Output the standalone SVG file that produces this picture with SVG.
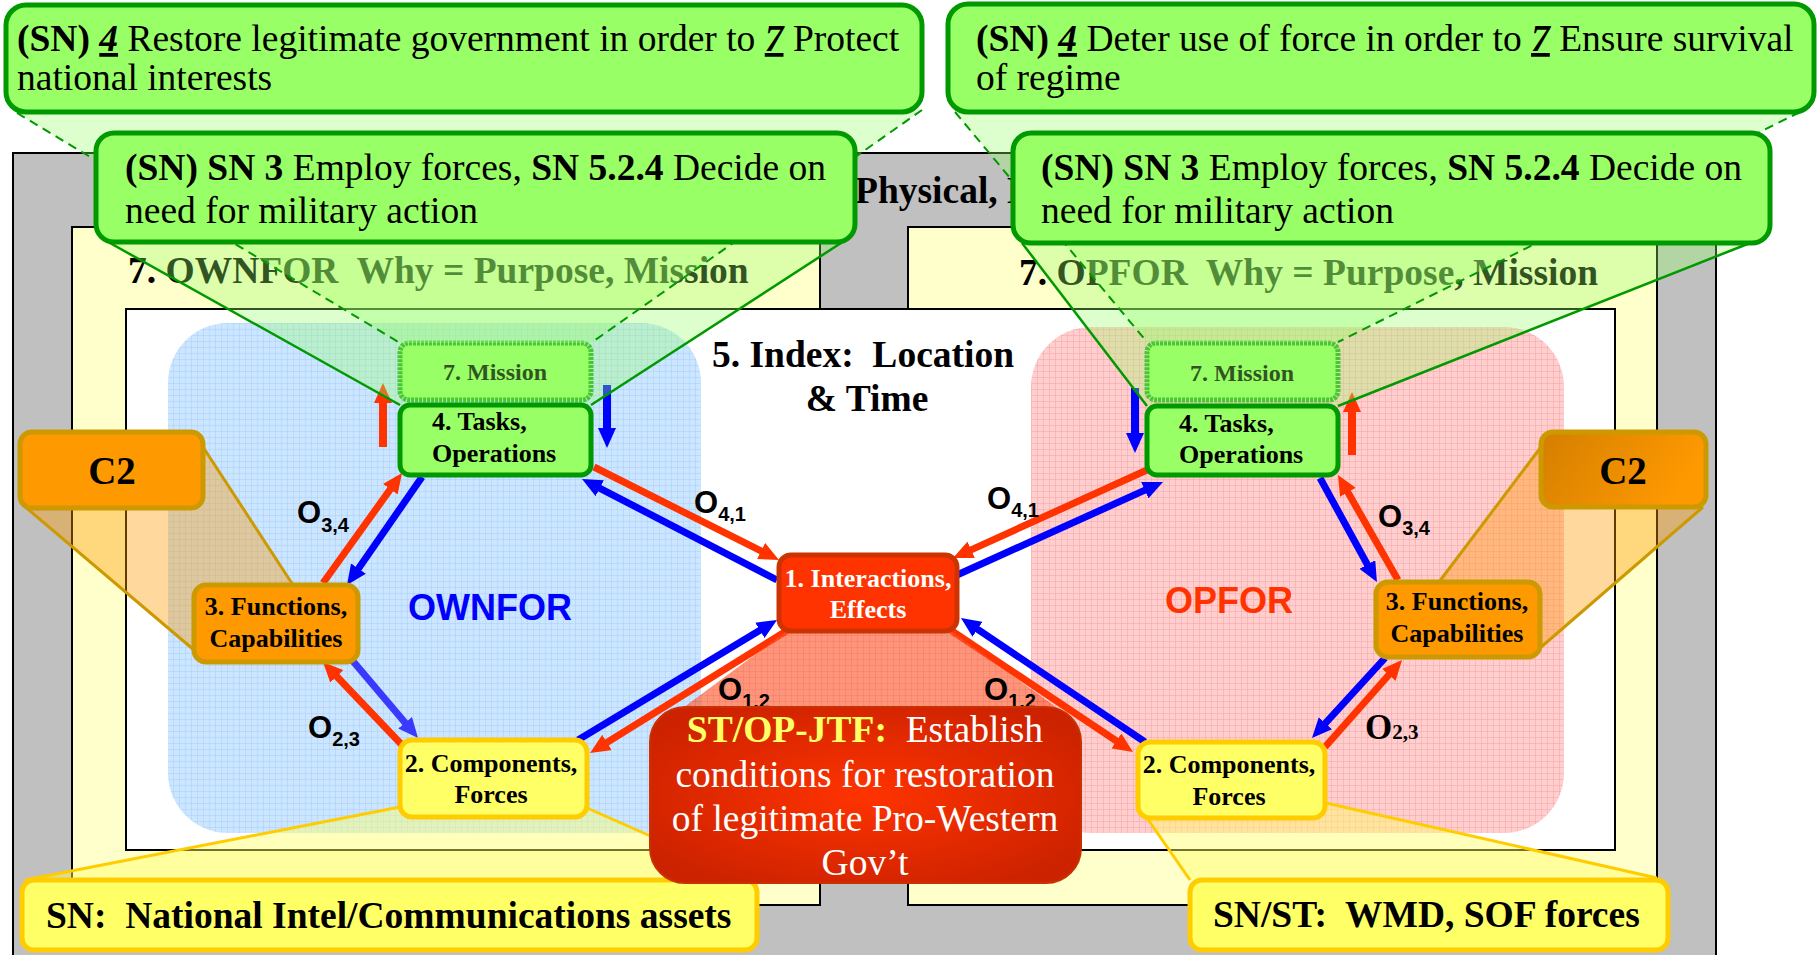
<svg xmlns="http://www.w3.org/2000/svg" width="1818" height="955" viewBox="0 0 1818 955">
<style>
.serif{font-family:"Liberation Serif","Times New Roman",serif}
.sans{font-family:"Liberation Sans",Arial,sans-serif}
.big{font-size:37.5px}
.lbl{font-size:26px;font-weight:bold}
.frame{stroke:#000;stroke-width:2}
.green{fill:#99ff66;stroke:#009900;stroke-width:5}
.mission{fill:#99ff66;stroke:#22aa22;stroke-width:5;stroke-dasharray:3 1}
.orange{fill:#ff9900;stroke:#cc9900;stroke-width:5}
.yellow{fill:#ffff66;stroke:#ffcc00;stroke-width:5}
.ar{stroke-width:7;fill:none}
.av{stroke-width:8;fill:none}
.r{stroke:#ff3300}
.b{stroke:#0000ff}
.b2{stroke:#3a3aff}
.olab{font-family:"Liberation Sans",Arial,sans-serif;font-weight:bold;font-size:31px;fill:#000}
.sub{font-size:20px}
.gcone{fill:#99ff66;fill-opacity:0.33}
.gdash{stroke:#009900;stroke-width:2;stroke-dasharray:9 6;fill:none}
.gsolid{stroke:#009900;stroke-width:2.5;fill:none}
.ocone{fill:#ff9900;fill-opacity:0.38}
.oedge{stroke:#cc9900;stroke-width:3;fill:none}
.ycone{fill:#ffff66;fill-opacity:0.45}
.yedge{stroke:#ffcc00;stroke-width:3;fill:none}
</style>
<defs>
<pattern id="gridBlue" width="6" height="6" patternUnits="userSpaceOnUse"><rect width="6" height="6" fill="#cde6ff"/><path d="M6 0V6M0 6H6" stroke="#a6cff9" stroke-width="1"/></pattern>
<pattern id="gridRed" width="6" height="6" patternUnits="userSpaceOnUse"><rect width="6" height="6" fill="#ffcece"/><path d="M6 0V6M0 6H6" stroke="#f7a3a3" stroke-width="1"/></pattern>
<pattern id="gridRC" width="6" height="6" patternUnits="userSpaceOnUse"><rect width="6" height="6" fill="#ff5a33"/><path d="M6 0V6M0 6H6" stroke="#e03a10" stroke-width="1"/></pattern>
<radialGradient id="stGrad" cx="50%" cy="50%" r="60%"><stop offset="0" stop-color="#ff3300"/><stop offset="1" stop-color="#cc2200"/></radialGradient>
<linearGradient id="c2Grad" x1="0" y1="0" x2="1" y2="0.3"><stop offset="0" stop-color="#d47f00"/><stop offset="1" stop-color="#ff9900"/></linearGradient>
<marker id="hr" markerUnits="userSpaceOnUse" markerWidth="20" markerHeight="18" refX="2" refY="9" orient="auto"><path d="M0,0L20,9L0,18z" fill="#ff3300"/></marker>
<marker id="hb" markerUnits="userSpaceOnUse" markerWidth="20" markerHeight="18" refX="2" refY="9" orient="auto"><path d="M0,0L20,9L0,18z" fill="#0000ff"/></marker>
<marker id="hb2" markerUnits="userSpaceOnUse" markerWidth="20" markerHeight="18" refX="2" refY="9" orient="auto"><path d="M0,0L20,9L0,18z" fill="#3a3aff"/></marker>
</defs>

<g id="background">
<rect x="13" y="153" width="1703" height="820" fill="#c0c0c0" class="frame"/>
<text x="855" y="203" class="serif big" font-weight="bold" xml:space="preserve">Physical, M</text>
<rect x="72" y="227" width="748" height="678" fill="#ffffcc" class="frame"/>
<rect x="908" y="227" width="749" height="678" fill="#ffffcc" class="frame"/>
<rect x="126" y="309" width="1489" height="541" fill="#ffffff" class="frame"/>
<rect x="168" y="323" width="533" height="510" rx="60" fill="url(#gridBlue)"/>
<rect x="1031" y="327" width="533" height="506" rx="60" fill="url(#gridRed)"/>
<text x="128" y="283" class="serif big" font-weight="bold" xml:space="preserve">7. OWNFOR  Why = Purpose, Mission</text>
<text x="1019" y="285" class="serif big" font-weight="bold" xml:space="preserve">7. OPFOR  Why = Purpose, Mission</text>
<text class="serif big" font-weight="bold" text-anchor="middle" xml:space="preserve"><tspan x="863" y="367">5. Index:  Location</tspan><tspan x="867" y="411">&amp; Time</tspan></text>
<text x="408" y="620" class="sans" font-size="36" font-weight="bold" fill="#0000ff">OWNFOR</text>
<text x="1165" y="613" class="sans" font-size="36" font-weight="bold" fill="#ff3300">OPFOR</text>
</g>

<g id="node-mission-ownfor">
<rect x="400" y="343" width="191" height="57" rx="9" class="mission"/>
<text x="495" y="380" class="serif" font-size="24" font-weight="bold" text-anchor="middle">7. Mission</text>
</g>
<g id="node-mission-opfor">
<rect x="1147" y="343" width="191" height="57" rx="9" class="mission"/>
<text x="1242" y="381" class="serif" font-size="24" font-weight="bold" text-anchor="middle">7. Mission</text>
</g>

<g id="connectors">
<line x1="594" y1="467" x2="762.9" y2="551.9" class="ar r" marker-end="url(#hr)"/>
<line x1="777" y1="580" x2="598" y2="487.3" class="ar b" marker-end="url(#hb)"/>
<line x1="323" y1="583" x2="391.5" y2="487.6" class="ar r" marker-end="url(#hr)"/>
<line x1="422" y1="477" x2="357.3" y2="570.2" class="ar b" marker-end="url(#hb)"/>
<line x1="402" y1="745" x2="335.4" y2="675" class="ar r" marker-end="url(#hr)"/>
<line x1="352" y1="660" x2="406.4" y2="724.3" class="ar b2" marker-end="url(#hb2)"/>
<line x1="578" y1="740" x2="761.6" y2="629.3" class="ar b" marker-end="url(#hb)"/>
<line x1="791" y1="628" x2="605.3" y2="743.5" class="ar r" marker-end="url(#hr)"/>
<line x1="1147" y1="470" x2="969.4" y2="550.6" class="ar r" marker-end="url(#hr)"/>
<line x1="957" y1="575" x2="1146.6" y2="489.4" class="ar b" marker-end="url(#hb)"/>
<line x1="1145" y1="742" x2="975.9" y2="628.1" class="ar b" marker-end="url(#hb)"/>
<line x1="946" y1="627" x2="1118" y2="742" class="ar r" marker-end="url(#hr)"/>
<line x1="1320" y1="478" x2="1368.3" y2="566.2" class="ar b" marker-end="url(#hb)"/>
<line x1="1398" y1="580" x2="1346.9" y2="490.6" class="ar r" marker-end="url(#hr)"/>
<line x1="1385" y1="658" x2="1324.1" y2="724.7" class="ar b" marker-end="url(#hb)"/>
<line x1="1325" y1="747" x2="1390.1" y2="673.5" class="ar r" marker-end="url(#hr)"/>
<line x1="383" y1="447" x2="383" y2="401" class="av r" marker-end="url(#hr)"/>
<line x1="607" y1="385" x2="607" y2="430" class="av b" marker-end="url(#hb)"/>
<line x1="1135" y1="388" x2="1135" y2="435" class="av b" marker-end="url(#hb)"/>
<line x1="1352" y1="455" x2="1352" y2="410" class="av r" marker-end="url(#hr)"/>
</g>

<g id="cones">
<polygon points="17,113 922,110 591,343 400,343" class="gcone" fill-opacity="0.25"/>
<polygon points="110,243 841,243 591,405 400,405" class="gcone"/>
<line x1="17" y1="113" x2="400" y2="343" class="gdash"/>
<line x1="922" y1="110" x2="591" y2="343" class="gdash"/>
<line x1="110" y1="243" x2="400" y2="405" class="gsolid"/>
<line x1="841" y1="243" x2="591" y2="405" class="gsolid"/>
<polygon points="955,112 1800,112 1338,342 1147,342" class="gcone" fill-opacity="0.25"/>
<polygon points="1022,243 1750,243 1338,406 1147,406" class="gcone"/>
<line x1="955" y1="112" x2="1147" y2="342" class="gdash"/>
<line x1="1800" y1="112" x2="1338" y2="342" class="gdash"/>
<line x1="1022" y1="243" x2="1147" y2="406" class="gsolid"/>
<line x1="1750" y1="243" x2="1338" y2="406" class="gsolid"/>
<polygon points="203,447 293,585 194,650 23,505" class="ocone"/>
<line x1="203" y1="447" x2="293" y2="585" class="oedge"/>
<line x1="23" y1="505" x2="194" y2="650" class="oedge"/>
<polygon points="1541,447 1439,582 1540,648 1703,507" class="ocone"/>
<line x1="1541" y1="447" x2="1439" y2="582" class="oedge"/>
<line x1="1703" y1="507" x2="1540" y2="648" class="oedge"/>
<polygon points="400,807 587,808 757,883 25,880" class="ycone"/>
<line x1="400" y1="807" x2="25" y2="880" class="yedge"/>
<line x1="587" y1="808" x2="757" y2="883" class="yedge"/>
<polygon points="1147,818 1326,803 1657,878 1190,880" class="ycone"/>
<line x1="1147" y1="818" x2="1190" y2="880" class="yedge"/>
<line x1="1326" y1="803" x2="1657" y2="878" class="yedge"/>
<polygon points="791,628 947,628 1060,710 680,710" fill="url(#gridRC)" fill-opacity="0.65"/>
</g>

<g id="labels">
<text x="297" y="523" class="olab">O<tspan class="sub" dy="9">3,4</tspan></text>
<text x="308" y="738" class="olab">O<tspan class="sub" dy="8">2,3</tspan></text>
<text x="694" y="513" class="olab">O<tspan class="sub" dy="8">4,1</tspan></text>
<text x="718" y="700" class="olab">O<tspan class="sub" dy="8">1,2</tspan></text>
<text x="987" y="509" class="olab">O<tspan class="sub" dy="8">4,1</tspan></text>
<text x="984" y="700" class="olab">O<tspan class="sub" dy="8">1,2</tspan></text>
<text x="1378" y="527" class="olab">O<tspan class="sub" dy="8">3,4</tspan></text>
<text x="1365" y="739" class="serif" font-size="35" font-weight="bold">O<tspan font-size="21" dy="0">2,3</tspan></text>
</g>

<g id="node-tasks-ownfor">
<rect x="400" y="405" width="191" height="70" rx="10" class="green"/>
<text class="serif lbl"><tspan x="432" y="430">4. Tasks,</tspan><tspan x="432" y="462">Operations</tspan></text>
</g>
<g id="node-tasks-opfor">
<rect x="1147" y="406" width="191" height="69" rx="10" class="green"/>
<text class="serif lbl"><tspan x="1179" y="432">4. Tasks,</tspan><tspan x="1179" y="463">Operations</tspan></text>
</g>
<g id="node-functions-ownfor">
<rect x="194" y="585" width="164" height="77" rx="12" class="orange"/>
<text class="serif lbl" text-anchor="middle"><tspan x="276" y="615">3. Functions,</tspan><tspan x="276" y="647">Capabilities</tspan></text>
</g>
<g id="node-functions-opfor">
<rect x="1376" y="582" width="164" height="75" rx="12" class="orange"/>
<text class="serif lbl" text-anchor="middle"><tspan x="1457" y="610">3. Functions,</tspan><tspan x="1457" y="642">Capabilities</tspan></text>
</g>
<g id="node-components-ownfor">
<rect x="400" y="740" width="187" height="77" rx="12" class="yellow"/>
<text class="serif lbl" text-anchor="middle"><tspan x="491" y="772">2. Components,</tspan><tspan x="491" y="803">Forces</tspan></text>
</g>
<g id="node-components-opfor">
<rect x="1138" y="742" width="187" height="76" rx="12" class="yellow"/>
<text class="serif lbl" text-anchor="middle"><tspan x="1229" y="773">2. Components,</tspan><tspan x="1229" y="805">Forces</tspan></text>
</g>
<g id="node-interactions">
<rect x="779" y="555" width="178" height="76" rx="12" fill="#ff3300" stroke="#cc3300" stroke-width="5"/>
<text class="serif lbl" text-anchor="middle" fill="#ffffff"><tspan x="868" y="587">1. Interactions,</tspan><tspan x="868" y="618">Effects</tspan></text>
</g>

<g id="callout-sn-ownfor">
<rect x="6" y="5" width="916" height="107" rx="20" class="green"/>
<text class="serif big"><tspan x="17" y="51"><tspan font-weight="bold">(SN)</tspan> <tspan font-weight="bold" font-style="italic" text-decoration="underline">4</tspan> Restore legitimate government in order to <tspan font-weight="bold" font-style="italic" text-decoration="underline">7</tspan> Protect</tspan><tspan x="17" y="90">national interests</tspan></text>
</g>
<g id="callout-sn-opfor">
<rect x="948" y="4" width="866" height="108" rx="20" class="green"/>
<text class="serif big"><tspan x="976" y="51"><tspan font-weight="bold">(SN)</tspan> <tspan font-weight="bold" font-style="italic" text-decoration="underline">4</tspan> Deter use of force in order to <tspan font-weight="bold" font-style="italic" text-decoration="underline">7</tspan> Ensure survival</tspan><tspan x="976" y="90">of regime</tspan></text>
</g>
<g id="callout-tasks-ownfor">
<rect x="96" y="133" width="759" height="109" rx="18" class="green"/>
<text class="serif big"><tspan x="125" y="180"><tspan font-weight="bold">(SN) SN 3</tspan> Employ forces, <tspan font-weight="bold">SN 5.2.4</tspan> Decide on</tspan><tspan x="125" y="223">need for military action</tspan></text>
</g>
<g id="callout-tasks-opfor">
<rect x="1013" y="133" width="757" height="110" rx="18" class="green"/>
<text class="serif big"><tspan x="1041" y="180"><tspan font-weight="bold">(SN) SN 3</tspan> Employ forces, <tspan font-weight="bold">SN 5.2.4</tspan> Decide on</tspan><tspan x="1041" y="223">need for military action</tspan></text>
</g>
<g id="callout-c2-ownfor">
<rect x="20" y="432" width="183" height="76" rx="12" class="orange"/>
<text x="112" y="484" class="serif" font-size="39" font-weight="bold" text-anchor="middle">C2</text>
</g>
<g id="callout-c2-opfor">
<rect x="1541" y="432" width="165" height="75" rx="12" fill="url(#c2Grad)" stroke="#cc9900" stroke-width="5"/>
<text x="1623" y="484" class="serif" font-size="39" font-weight="bold" text-anchor="middle">C2</text>
</g>
<g id="callout-components-ownfor">
<rect x="22" y="880" width="735" height="70" rx="12" class="yellow"/>
<text x="46" y="928" class="serif big" font-weight="bold" xml:space="preserve">SN:  National Intel/Communications assets</text>
</g>
<g id="callout-components-opfor">
<rect x="1190" y="880" width="478" height="70" rx="12" class="yellow"/>
<text x="1213" y="927" class="serif big" font-weight="bold" xml:space="preserve">SN/ST:  WMD, SOF forces</text>
</g>
<g id="callout-jtf">
<rect x="650" y="707" width="431" height="176" rx="35" fill="url(#stGrad)" stroke="#c83200" stroke-width="2"/>
<text class="serif big" fill="#ffffff" text-anchor="middle" xml:space="preserve"><tspan x="865" y="742"><tspan fill="#ffff66" font-weight="bold">ST/OP-JTF:</tspan>  Establish</tspan><tspan x="865" y="787">conditions for restoration</tspan><tspan x="865" y="831">of legitimate Pro-Western</tspan><tspan x="865" y="875">Gov’t</tspan></text>
</g>
</svg>
